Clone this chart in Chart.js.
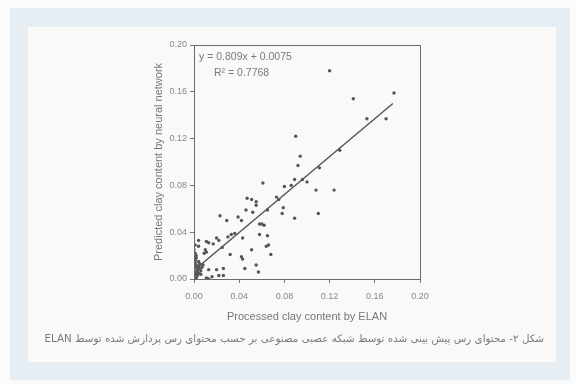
<!DOCTYPE html>
<html>
<head>
<meta charset="utf-8">
<script src="https://cdn.jsdelivr.net/npm/chart.js@4.4.1/dist/chart.umd.min.js"></script>
<style>
  html, body { margin:0; padding:0; background:#fbfbfb; }
  #wrap { position:relative; width:576px; height:384px; overflow:hidden; }
  #band { position:absolute; left:10px; top:8px; width:560px; height:372px; background:#e6eef4; }
  #panel { position:absolute; left:28px; top:27px; width:528px; height:335px; background:#f9f9f7; }
  #c { position:absolute; left:0; top:0; }
  #caption { position:absolute; right:32px; top:332px; width:520px; text-align:right;
    font-family:"DejaVu Sans", sans-serif; font-size:10.3px; color:#7a7a7a; white-space:nowrap; }
</style>
</head>
<body>
<div id="wrap">
  <div id="band"></div>
  <div id="panel"></div>
  <canvas id="c" width="576" height="384"></canvas>
  <div id="caption" dir="rtl">شکل ۲- محتوای رس پیش بینی شده توسط شبکه عصبی مصنوعی بر حسب محتوای رس پردازش شده توسط ELAN</div>
</div>
<script>
// Processed clay content by ELAN (x) and predicted by neural network (y)
const clayElan = [
  0.120,0.141,0.177,0.153,0.170,0.090,
  0.094,0.092,0.129,0.111,0.061,0.080,0.086,0.089,0.096,0.100,0.108,0.124,
  0.073,0.075,0.047,0.051,0.055,0.055,0.079,0.078,0.110,0.089,0.046,0.052,0.065,
  0.023,0.029,0.039,0.042,0.058,0.060,0.062,0.065,0.058,0.043,0.030,0.033,0.036,
  0.020,0.022,0.017,0.011,0.013,0.004,0.004,0.010,0.011,0.009,0.001,0.001,
  0.064,0.066,0.051,0.068,0.032,0.042,0.043,0.055,0.045,0.057,
  0.013,0.020,0.026,0.016,0.022,0.026,0.011,0.013,0.025,
  0.002,0.004,0.001,0.000,0.002,
  0.000,0.001,0.002,0.003,0.001,0.004,0.005,0.002,0.006,0.003,0.000,0.004,0.007,0.001,0.005,0.008,0.000,0.002,0.006,0.003
];
const clayNN = [
  0.178,0.154,0.159,0.137,0.137,0.122,
  0.105,0.097,0.110,0.095,0.082,0.079,0.080,0.085,0.085,0.083,0.076,0.076,
  0.070,0.068,0.069,0.068,0.066,0.063,0.061,0.056,0.056,0.052,0.059,0.057,0.059,
  0.054,0.050,0.053,0.050,0.047,0.047,0.046,0.037,0.038,0.035,0.036,0.038,0.039,
  0.035,0.033,0.030,0.032,0.031,0.033,0.028,0.025,0.023,0.022,0.022,0.016,
  0.028,0.029,0.025,0.021,0.021,0.019,0.017,0.012,0.009,0.006,
  0.008,0.008,0.009,0.002,0.003,0.003,0.001,0.000,0.027,
  0.018,0.015,0.029,0.025,0.020,
  0.002,0.004,0.006,0.008,0.010,0.005,0.009,0.012,0.007,0.003,0.008,0.011,0.010,0.014,0.013,0.012,0.005,0.001,0.004,0.006
];
// Fitted line endpoints (y = 0.809x + 0.0075)
const fitX = [0.002, 0.176];
const fitY = [0.009, 0.150];
const tickValues = [0.00, 0.04, 0.08, 0.12, 0.16, 0.20];
const equationText = 'y = 0.809x + 0.0075';
const r2Text = 'R² = 0.7768';
const xTitle = 'Processed clay content by ELAN';
const yTitle = 'Predicted clay content by neural network';

const points = clayElan.map((x, i) => ({ x: x, y: clayNN[i] }));
const fitLine = fitX.map((x, i) => ({ x: x, y: fitY[i] }));

const boxPlugin = {
  id: 'box',
  afterDraw(chart) {
    const { ctx, chartArea: a } = chart;
    ctx.save();
    ctx.strokeStyle = '#6a6a6a';
    ctx.lineWidth = 1;
    ctx.strokeRect(a.left + 0.5, a.top + 0.5, a.right - a.left, a.bottom - a.top);
    ctx.fillStyle = '#7a7a7a';
    ctx.font = '10.5px "Liberation Sans", Arial, sans-serif';
    ctx.textBaseline = 'middle';
    ctx.textAlign = 'left';
    ctx.fillText(equationText, a.left + 5, a.top + 12);
    ctx.fillText(r2Text, a.left + 20, a.top + 28);
    ctx.restore();
  }
};

const axisCommon = {
  type: 'linear',
  min: 0, max: 0.2,
  afterBuildTicks(scale) { scale.ticks = tickValues.map(v => ({ value: v })); },
  grid: { drawOnChartArea: false, drawTicks: true, tickLength: 4, color: '#777' },
  border: { display: true, color: '#6a6a6a', width: 1 },
};

new Chart(document.getElementById('c'), {
  type: 'scatter',
  data: {
    datasets: [
      {
        data: points,
        backgroundColor: '#555',
        borderWidth: 0,
        pointRadius: 1.7,
        pointHoverRadius: 1.7
      },
      {
        type: 'line',
        data: fitLine,
        borderColor: '#555',
        borderWidth: 1.5,
        pointRadius: 0,
        fill: false
      }
    ]
  },
  plugins: [boxPlugin],
  options: {
    responsive: false,
    animation: false,
    events: [],
    layout: { padding: { left: 150, right: 156, top: 45, bottom: 55 } },
    plugins: { legend: { display: false }, tooltip: { enabled: false } },
    scales: {
      x: Object.assign({}, axisCommon, {
        position: 'bottom',
        ticks: { color: '#888', font: { size: 9, family: '"Liberation Sans", Arial' }, padding: 8, maxRotation: 0,
          callback: v => Number(v).toFixed(2) },
        title: { display: true, text: xTitle, color: '#777', font: { size: 11, family: '"Liberation Sans", Arial' }, padding: { top: 0, bottom: 5 } },
        afterFit(scale) { scale.height = 50; }
      }),
      y: Object.assign({}, axisCommon, {
        position: 'left',
        ticks: { color: '#888', font: { size: 9, family: '"Liberation Sans", Arial' }, padding: 3,
          callback: v => Number(v).toFixed(2) },
        title: { display: true, text: yTitle, color: '#777', font: { size: 11, family: '"Liberation Sans", Arial' }, padding: { top: 2, bottom: 0 } },
        afterFit(scale) { scale.width = 44; }
      })
    }
  }
});
</script>
</body>
</html>
